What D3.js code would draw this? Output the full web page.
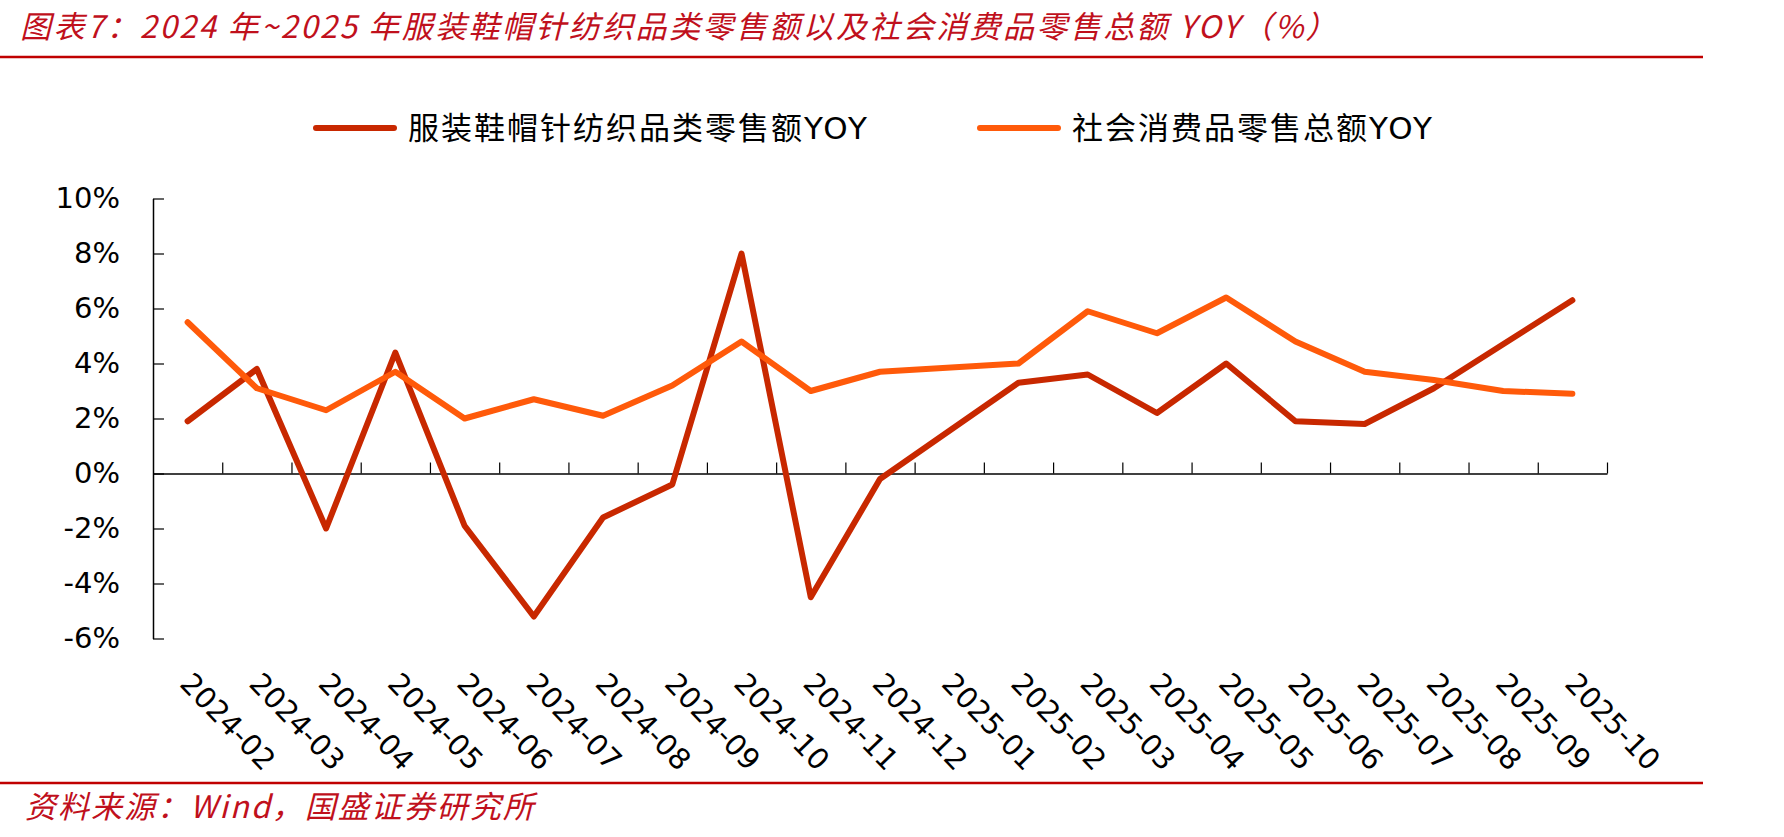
<!DOCTYPE html>
<html>
<head>
<meta charset="utf-8">
<script src="https://cdn.jsdelivr.net/npm/d3@7"></script>
<style>
  html, body { margin: 0; padding: 0; background: #fff; }
  svg { display: block; }
</style>
</head>
<body>
<div id="chart"></div>
<script>
// months on the x axis (2025-01 has no own figure, Jan-Feb are reported together)
const categories = ["2024-02", "2024-03", "2024-04", "2024-05", "2024-06", "2024-07",
    "2024-08", "2024-09", "2024-10", "2024-11", "2024-12", "2025-01", "2025-02",
    "2025-03", "2025-04", "2025-05", "2025-06", "2025-07", "2025-08", "2025-09", "2025-10"];

// 服装鞋帽针纺织品类零售额YOY (%)
const apparelYoy = [1.9, 3.8, -2.0, 4.4, -1.9, -5.2, -1.6, -0.4, 8.0, -4.5, -0.2, null,
    3.3, 3.6, 2.2, 4.0, 1.9, 1.8, 3.1, 4.7, 6.3];

// 社会消费品零售总额YOY (%)
const retailYoy = [5.5, 3.1, 2.3, 3.7, 2.0, 2.7, 2.1, 3.2, 4.8, 3.0, 3.7, null,
    4.0, 5.9, 5.1, 6.4, 4.8, 3.7, 3.4, 3.0, 2.9];

const yTicks = [-6, -4, -2, 0, 2, 4, 6, 8, 10];

const seriesNames = ["服装鞋帽针纺织品类零售额YOY", "社会消费品零售总额YOY"];
const seriesColors = ["#C82800", "#FF5A0A"];

const titleText = "图表7：2024 年~2025 年服装鞋帽针纺织品类零售额以及社会消费品零售总额 YOY（%）";
const sourceText = "资料来源：Wind，国盛证券研究所";

const W = 1784, H = 837;
const plotLeft = 153, plotRight = 1607, plotTop = 198.5, plotBottom = 638.5;
const red = "#C0101C";
const font = "'DejaVu Sans', 'Noto Sans CJK SC', sans-serif";

const svg = d3.select("#chart").append("svg")
    .attr("width", W)
    .attr("height", H);

// title + rules
svg.append("text")
    .attr("x", 20)
    .attr("y", 38)
    .attr("fill", red)
    .style("font-family", "'Noto Sans CJK SC', sans-serif")
    .style("font-style", "italic")
    .style("font-size", "31px")
    .style("letter-spacing", "2.4px")
    .text(titleText);

svg.append("line")
    .attr("x1", 0).attr("x2", 1703)
    .attr("y1", 57).attr("y2", 57)
    .attr("stroke", "#C00000")
    .attr("stroke-width", 2.5);

svg.append("line")
    .attr("x1", 0).attr("x2", 1703)
    .attr("y1", 783).attr("y2", 783)
    .attr("stroke", "#C00000")
    .attr("stroke-width", 2.5);

svg.append("text")
    .attr("x", 25)
    .attr("y", 818)
    .attr("fill", red)
    .style("font-family", "'Noto Sans CJK SC', sans-serif")
    .style("font-style", "italic")
    .style("font-size", "31px")
    .style("letter-spacing", "2px")
    .text(sourceText);

// scales
const xScale = d3.scaleBand().domain(categories).range([plotLeft, plotRight]);
const xEdge = d3.scaleLinear().domain([0, categories.length]).range([plotLeft, plotRight]);
const yScale = d3.scaleLinear().domain([-6, 10]).range([plotBottom, plotTop]);

// y axis, ticks point inward
const yAxis = d3.axisLeft(yScale)
    .tickValues(yTicks)
    .tickSizeInner(-11)
    .tickSizeOuter(0)
    .tickPadding(33)
    .tickFormat(function (d) { return d + "%"; });

const gy = svg.append("g")
    .attr("transform", `translate(${plotLeft}, 0)`)
    .call(yAxis);
gy.select(".domain").attr("stroke", "#000").attr("stroke-width", 1.5);
gy.selectAll(".tick line").attr("stroke", "#000").attr("stroke-width", 1.2);
gy.selectAll(".tick text")
    .attr("fill", "#000")
    .style("font-family", font)
    .style("font-size", "29px");

// x axis on the zero line, ticks between months
const xAxis = d3.axisBottom(xEdge)
    .tickValues(d3.range(1, categories.length + 1))
    .tickSizeInner(-11)
    .tickSizeOuter(0)
    .tickFormat("");

const gx = svg.append("g")
    .attr("transform", `translate(0, ${yScale(0)})`)
    .call(xAxis);
gx.select(".domain").attr("stroke", "#000").attr("stroke-width", 1.5);
gx.selectAll(".tick line").attr("stroke", "#000").attr("stroke-width", 1.2);

// month labels below the plot, rotated
svg.append("g")
    .selectAll("text")
    .data(categories)
    .enter()
    .append("text")
    .attr("transform", function (d) {
        const x = xScale(d) + xScale.bandwidth() / 2 - 9;
        return `translate(${x}, 685) rotate(46)`;
    })
    .attr("fill", "#000")
    .style("font-family", font)
    .style("font-size", "29px")
    .text(function (d) { return d; });

// lines (2025-01 is skipped, so the line runs straight across)
const line = d3.line()
    .x(function (p) { return xScale(p.cat) + xScale.bandwidth() / 2; })
    .y(function (p) { return yScale(p.val); });

[apparelYoy, retailYoy].forEach(function (values, k) {
    const pts = categories
        .map(function (c, i) { return {cat: c, val: values[i]}; })
        .filter(function (p) { return p.val !== null; });

    svg.append("path")
        .datum(pts)
        .attr("d", line)
        .attr("fill", "none")
        .attr("stroke", seriesColors[k])
        .attr("stroke-width", 6)
        .attr("stroke-linecap", "round")
        .attr("stroke-linejoin", "round");
});

// legend
const legendX = [316, 980];
const legend = svg.selectAll(".legend")
    .data(seriesNames)
    .enter().append("g")
    .attr("class", "legend")
    .attr("transform", function (d, i) { return `translate(${legendX[i]}, 128)`; });

legend.append("line")
    .attr("x1", 0).attr("x2", 78)
    .attr("y1", 0).attr("y2", 0)
    .attr("stroke", function (d, i) { return seriesColors[i]; })
    .attr("stroke-width", 6)
    .attr("stroke-linecap", "round");

legend.append("text")
    .attr("x", 92)
    .attr("y", 11)
    .attr("fill", "#000")
    .style("font-family", font)
    .style("font-size", "31px")
    .style("letter-spacing", "2px")
    .text(function (d) { return d; });
</script>
</body>
</html>
